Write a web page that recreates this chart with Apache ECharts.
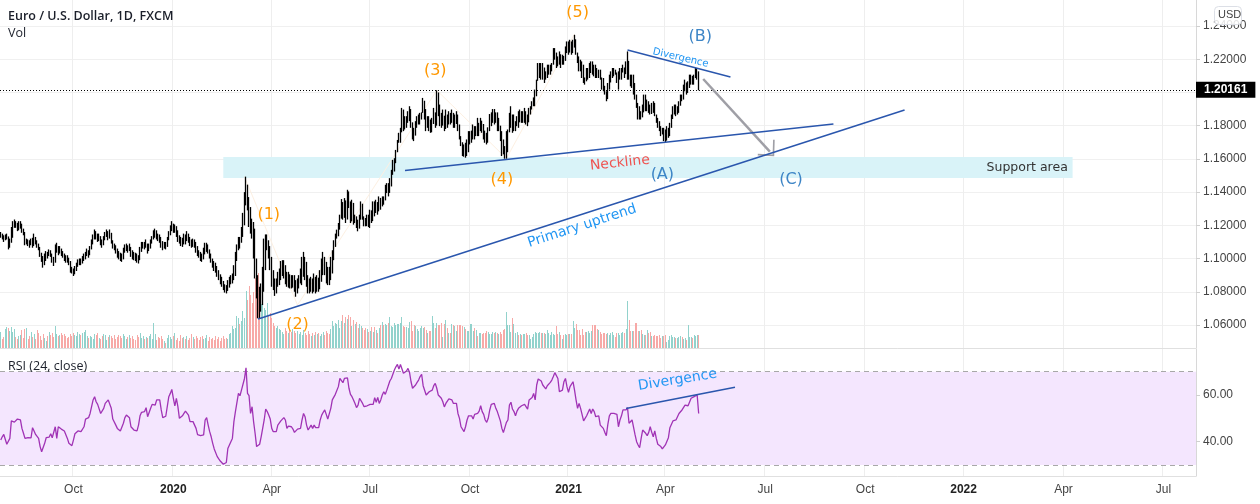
<!DOCTYPE html>
<html><head><meta charset="utf-8">
<script src="https://cdn.jsdelivr.net/npm/echarts@6/dist/echarts.min.js"></script>
<style>html,body{margin:0;padding:0;background:#fff}#c{width:1260px;height:504px}</style>
</head><body><div id="c"></div>
<script>
// Prices are pips above 1.0000 (1145 = 1.1145)
const closes=[
1145,1138,1118,1130,1133,1068,1095,1125,1190,1215,1205,1180,1200,1210,1175,1160,1090,1105,1095,1080,
1105,1075,1130,1100,1085,1068,1025,1005,965,985,1030,1015,1040,1030,995,975,1060,1075,1040,1055,
1030,1020,1005,1000,995,985,935,925,910,925,955,975,980,975,990,1005,1015,1035,1025,1055,
1090,1115,1150,1140,1120,1130,1105,1085,1110,1140,1150,1130,1150,1110,1080,1070,1050,1025,1015,1010,
1000,1040,1060,1065,1055,1070,1030,1020,1010,1005,1000,990,1040,1075,1080,1075,1090,1050,1065,1095,
1115,1135,1150,1135,1125,1115,1100,1070,1080,1075,1110,1140,1175,1195,1170,1185,1165,1130,1110,1100,
1095,1130,1110,1140,1120,1100,1085,1095,1090,1070,1040,1025,1010,1005,1025,1060,1075,1050,1020,1000,
970,950,945,915,895,870,855,830,815,810,830,860,870,880,895,985,1050,1100,1095,1130,
1200,1320,1445,1350,1290,1215,1190,1090,1000,900,755,690,720,800,930,1080,1110,1060,1010,920,
870,810,830,860,880,920,950,955,900,860,880,860,850,860,845,790,830,860,880,890,
990,980,890,850,820,840,810,870,820,850,830,860,900,980,960,920,900,870,910,990,
1070,1120,1149,1200,1240,1340,1245,1350,1235,1400,1320,1240,1335,1225,1240,1195,1180,1245,1330,1245,
1210,1195,1250,1205,1290,1225,1320,1275,1340,1290,1365,1315,1370,1350,1425,1440,1395,1470,1530,1590,
1590,1640,1700,1740,1760,1850,1810,1800,1840,1880,1900,1820,1760,1740,1810,1830,1860,1870,1880,1950,
1900,1810,1820,1790,1760,1810,1880,1800,2000,1890,1830,1800,1860,1780,1850,1810,1870,1840,1870,1800,
1810,1860,1790,1730,1700,1640,1670,1630,1640,1730,1760,1770,1790,1780,1790,1780,1800,1830,1810,1770,
1730,1710,1790,1870,1880,1900,1870,1880,1790,1800,1740,1660,1650,1620,1640,1760,1820,1860,1780,1800,
1810,1840,1820,1880,1850,1860,1870,1830,1820,1890,1900,1940,1970,2010,2070,2130,2140,2120,2150,2090,
2100,2130,2140,2160,2170,2240,2240,2190,2180,2230,2170,2220,2190,2260,2260,2240,2290,2260,2270,2320,
2240,2200,2150,2130,2110,2090,2070,2100,2110,2130,2150,2130,2120,2110,2100,2130,2090,2050,2040,2000,
1960,2040,2060,2100,2120,2130,2120,2070,2080,2100,2120,2150,2110,2140,2190,2100,2050,2060,2020,1970,
1930,1850,1860,1850,1880,1930,1910,1910,1890,1870,1900,1890,1860,1830,1790,1780,1750,1770,1720,1710,
1750,1760,1790,1840,1890,1910,1880,1900,1920,1980,1970,2020,2060,2010,2050,2090,2100,2070,2090,2120,
2120,2016];
const highs=[
1160,1150,1140,1145,1150,1100,1120,1190,1225,1235,1225,1215,1225,1225,1210,1180,1130,1120,1115,1110,
1120,1125,1150,1130,1110,1090,1070,1035,1015,1030,1045,1040,1055,1050,1030,1010,1085,1095,1075,1075,
1060,1045,1030,1020,1020,1005,985,950,940,955,975,995,1000,1000,1015,1030,1040,1060,1050,1075,
1115,1145,1175,1165,1150,1150,1135,1115,1135,1160,1175,1165,1175,1155,1110,1090,1080,1060,1045,1035,
1030,1065,1085,1090,1080,1090,1065,1050,1040,1035,1030,1020,1070,1100,1100,1100,1115,1085,1090,1115,
1135,1170,1180,1170,1150,1145,1130,1105,1100,1100,1130,1165,1200,1225,1210,1205,1195,1170,1140,1130,
1125,1150,1145,1165,1150,1130,1115,1120,1115,1100,1075,1050,1040,1030,1065,1095,1095,1085,1055,1030,
1000,985,975,955,930,905,890,865,845,840,870,890,900,910,960,1040,1085,1130,1130,1190,
1275,1400,1493,1440,1370,1310,1240,1220,1180,1000,900,830,850,950,1120,1145,1145,1110,1075,1010,
930,880,880,920,940,985,990,990,960,920,920,905,900,900,900,870,880,900,940,1010,
1040,1010,950,900,880,890,880,910,890,900,885,930,1000,1040,1010,980,950,950,1010,1050,
1110,1150,1174,1214,1264,1358,1304,1364,1324,1414,1404,1344,1354,1264,1264,1254,1234,1264,1344,1324,
1254,1244,1264,1264,1294,1284,1344,1344,1354,1324,1374,1344,1374,1374,1444,1454,1454,1484,1534,1594,
1604,1654,1714,1757,1787,1907,1897,1857,1857,1887,1917,1887,1807,1787,1827,1857,1867,1877,1877,1967,
1917,1867,1857,1857,1837,1847,1907,1877,2013,1957,1927,1877,1897,1837,1897,1867,1887,1877,1897,1877,
1867,1887,1867,1807,1737,1687,1687,1697,1717,1767,1767,1767,1807,1797,1797,1847,1817,1847,1827,1777,
1757,1757,1767,1857,1877,1877,1867,1867,1867,1847,1777,1767,1717,1677,1767,1777,1877,1917,1867,1867,
1827,1857,1887,1897,1887,1887,1907,1887,1867,1907,1917,1947,1967,2017,2077,2177,2177,2177,2177,2127,
2127,2167,2167,2167,2177,2267,2267,2227,2217,2247,2217,2227,2217,2277,2307,2307,2317,2307,2317,2347,
2307,2227,2217,2197,2187,2167,2087,2147,2147,2177,2187,2187,2167,2167,2147,2137,2137,2087,2087,2027,
2007,2057,2107,2127,2147,2147,2137,2117,2127,2147,2147,2167,2147,2187,2247,2137,2107,2107,2107,2057,
1987,1937,1917,1887,1927,1987,1987,1957,1947,1927,1937,1947,1937,1867,1847,1827,1797,1787,1787,1777,
1797,1787,1817,1867,1917,1927,1927,1917,1947,1987,1987,2047,2077,2057,2067,2107,2107,2097,2107,2147,
2147,2127];
const lows=[
1125,1115,1100,1110,1115,1055,1065,1095,1125,1185,1185,1165,1170,1180,1155,1140,1080,1085,1075,1065,
1080,1065,1085,1085,1065,1050,1010,980,945,960,1000,1000,1015,1010,975,955,975,1035,1020,1030,
1015,1005,985,975,975,960,915,910,895,905,930,950,960,960,970,985,995,1015,1005,1020,
1060,1085,1130,1115,1100,1105,1080,1065,1080,1110,1130,1110,1120,1090,1060,1050,1030,1005,995,985,
980,995,1035,1045,1035,1045,1010,995,990,985,975,970,990,1050,1060,1055,1065,1030,1045,1060,
1090,1115,1125,1115,1105,1095,1065,1050,1060,1055,1070,1110,1140,1165,1155,1155,1130,1100,1090,1075,
1070,1085,1085,1105,1095,1075,1065,1070,1065,1035,1015,1005,985,980,995,1025,1040,1030,1000,975,
945,925,915,890,870,845,830,810,795,790,805,825,845,850,870,950,1020,1065,1060,1095,
1160,1230,1330,1290,1190,1150,1120,1000,880,760,640,636,680,760,900,1050,1050,1000,930,830,
810,775,790,830,840,870,895,880,845,830,825,820,820,825,800,770,795,820,850,840,
900,870,830,790,790,800,790,800,790,800,800,815,870,920,900,850,840,840,880,920,
1010,1080,1124,1134,1174,1264,1234,1274,1214,1314,1304,1214,1224,1204,1214,1184,1164,1194,1234,1234,
1194,1194,1204,1190,1184,1214,1234,1254,1274,1264,1284,1294,1314,1324,1364,1394,1374,1404,1434,1504,
1524,1574,1644,1697,1697,1767,1767,1777,1787,1817,1827,1787,1717,1707,1767,1787,1807,1807,1837,1877,
1837,1767,1787,1767,1757,1787,1837,1787,1877,1857,1797,1787,1817,1767,1817,1787,1807,1807,1817,1787,
1787,1817,1767,1717,1677,1617,1613,1607,1617,1657,1687,1697,1717,1717,1737,1737,1737,1767,1757,1717,
1697,1687,1697,1767,1797,1817,1807,1817,1767,1767,1707,1617,1627,1601,1601,1677,1767,1787,1757,1767,
1767,1797,1787,1837,1817,1817,1817,1807,1797,1837,1867,1897,1917,1917,1977,2077,2087,2077,2077,2057,
2077,2087,2107,2107,2127,2167,2197,2147,2157,2167,2147,2167,2167,2217,2237,2227,2247,2227,2237,2277,
2227,2177,2127,2127,2087,2057,2047,2067,2077,2087,2117,2107,2097,2087,2087,2087,2077,2017,2007,1987,
1947,2007,2017,2067,2087,2097,2107,2057,2017,2077,2077,2127,2087,2117,2077,2077,2037,2027,1987,1957,
1907,1837,1837,1837,1857,1897,1887,1887,1877,1867,1887,1877,1857,1817,1787,1767,1737,1747,1707,1701,
1717,1727,1737,1787,1857,1867,1857,1867,1877,1927,1947,1957,2007,1987,1997,2027,2047,2047,2047,2087,
2077,2013];
const volumes=[
16,9,11,19,21,20,17,21,16,19,11,9,12,13,18,10,19,20,9,12,
16,11,14,9,18,15,12,8,14,10,7,12,16,13,15,11,22,14,12,13,
15,13,14,12,10,11,14,12,15,13,12,16,14,13,15,16,18,12,10,12,
11,9,14,13,15,10,9,12,14,13,8,11,13,12,10,13,9,11,13,12,
10,14,12,9,11,13,10,12,9,8,13,11,15,10,12,9,11,10,12,14,
9,25,14,8,11,10,12,9,7,5,10,13,11,9,12,15,8,10,7,13,
10,11,9,12,8,10,14,11,9,12,10,8,11,12,9,10,13,7,11,9,
10,8,12,9,11,7,10,12,9,10,9,14,15,22,19,20,32,30,24,27,
37,30,57,48,62,53,45,56,70,82,75,58,44,45,40,38,45,33,35,30,
25,22,20,22,19,18,16,14,20,17,15,18,16,19,17,15,17,14,16,13,
18,15,13,17,14,12,15,13,16,14,15,12,14,16,13,17,15,14,19,27,
22,25,24,28,20,27,33,25,31,29,33,31,22,28,24,26,20,24,22,20,
18,20,19,16,17,21,16,21,18,15,20,23,26,23,24,23,25,31,22,21,
25,23,24,24,25,31,22,21,21,20,26,27,17,23,22,19,17,20,22,20,
21,18,15,17,17,32,25,20,25,23,23,25,11,24,28,20,15,15,24,23,
22,17,23,23,23,22,21,19,17,17,24,24,17,20,18,12,15,15,14,15,
15,17,16,14,14,16,15,16,15,14,16,14,18,19,36,23,23,16,30,24,
15,16,13,14,13,14,14,15,13,13,9,11,14,16,15,15,16,15,15,15,
14,18,15,13,16,14,13,22,14,16,13,9,13,14,13,14,14,14,27,20,
24,18,18,13,19,13,16,16,17,15,17,23,23,23,19,18,16,14,15,15,
14,15,13,15,16,13,11,15,15,13,15,16,15,19,47,28,17,17,17,25,
25,17,17,18,14,13,13,18,15,16,12,12,13,12,12,13,10,12,12,13,
6,8,12,13,11,11,10,10,11,12,11,9,10,8,23,11,11,10,13,12,
13,13];
const rsi=[
40.7,42.1,43.1,42.9,38.9,39.7,41.4,48.9,48.9,48.4,48.9,49.7,50.3,49.3,45.7,43.6,41.4,40.6,41.7,41.1,
41.6,46,44.6,43.1,42.6,41.4,37.9,35.7,35.4,39.3,41.7,41.4,42,43.4,41.7,41.1,46.4,41.4,46.4,47.1,
45.4,45.4,44.6,44.6,41.4,39.3,40,38.3,40.7,43.4,44,44.6,44.6,44.3,43.6,46.4,49.7,49.4,50.3,52.1,
55,57.9,59.3,57.1,56,55.4,52.1,52.1,54.3,56.4,57.1,57.9,57.4,54.3,49.7,48.9,47.1,45.7,45,44.6,
45,47.9,50.3,51.4,51.1,50.3,46.4,45.7,45,45.4,44.6,47.1,51.1,52.6,52.6,52.9,54.6,50.7,51.1,54.3,
56,56.6,55.7,57.9,58.3,57.9,53.6,50.3,50.9,50.9,51.4,59.3,60.7,62.4,58.6,55.4,58.6,55,50,50,
51.1,52.1,53.1,52.9,51.4,48.6,48.3,48.6,47.9,45.7,43,42.6,42.6,42.1,42.9,49.3,50.3,47.1,44.3,42.1,
39.3,36.9,36.9,33.6,32.6,31.7,32.1,30.3,30.7,31.1,37.1,37.9,40,41.4,48.6,52.9,53.6,60.7,59.7,62.1,
62.9,67.1,71.7,60.7,59.7,52.1,55,48.6,43.6,37.9,37.9,38.9,42.1,45.7,49.3,54,52.9,51.4,49.7,45.7,
44.3,43.6,44.3,47.1,47.9,48.9,48.3,50.3,49.3,45.7,46.7,46.7,46.4,45.4,44,43.6,45.4,45.7,45.7,49.3,
52.1,50.7,47.1,45,46,47.1,45.7,47.1,46,46,46,49.3,51.4,52.6,53.6,51.7,49.7,49.7,54.3,57.9,
58.6,60.3,60.7,63.6,67.1,67.9,65.3,67.1,67.4,67.4,62.9,60.3,59.3,57.9,56.4,54.6,55.7,58.6,59.3,56.4,
55,54.9,55.4,55.7,56,56,56,58.9,56.9,59,56.4,57.9,60,61.4,60.3,62.1,62.9,66,67.1,67.9,
70.7,72.1,73.1,71.1,73.1,73.6,69.3,68.6,70.3,71.4,69.7,65.7,62.9,63.1,64.3,65.4,66.4,67.9,68.9,64,
63.6,60,60,61.4,61.1,62.1,64,65,62.9,60,59.7,58.6,57.1,54.9,56.4,57.4,58.3,59,57.9,56.4,
56,56.4,52.1,50,46.4,45.7,44.3,46.4,49.3,51.1,50.3,51.1,49.7,51.7,51.4,52.1,53.1,55.4,52.9,51.7,
49.3,48.3,50,53.6,56,55.4,56.4,54.3,52.9,52.1,48.9,45.7,43.9,44,48.3,49.3,55.7,56.9,54,52.9,
51.1,53.1,54.3,55,55.4,55.7,56,55.4,54,57.9,58.3,58.9,60.7,57.9,64.3,66.9,67.1,66,64.3,64.6,
62.6,64,64.3,65.4,66.4,67.9,69.6,68.9,67.1,61.4,61.7,62.1,65.7,67.1,63.6,61.1,63.6,64.3,65.7,62.1,
57.9,54.3,56.4,54.3,53.6,48.9,48.9,51.1,51.4,54,52.1,54,52.9,50.7,51.4,51.1,47.1,46.4,45.7,44,
42.6,47.4,51.1,52.1,52.1,52.1,52.1,51.7,46.4,49.3,51.1,53.6,54.3,53.6,54.6,47.9,47.1,49.3,48.6,42.9,
40,38.6,37.4,41.4,45,45.7,43.6,42.6,44,46.4,44,42.1,44.6,41.4,38.9,39.3,37.9,36.9,36.3,38.6,
39.3,41.7,46,46.4,48.9,48.3,49.3,50,52.1,52.4,53.6,54.3,55.7,56,55.4,55.7,58.6,58.6,59.3,60,
60,52.1];

const slotCount=790;
const timeTicks=[[48,'Oct'],[114,'2020'],[179,'Apr'],[244,'Jul'],[310,'Oct'],[375,'2021'],[439,'Apr'],[505,'Jul'],[571,'Oct'],[636,'2022'],[702,'Apr'],[768,'Jul']];
const priceTicks=[1.06,1.08,1.10,1.12,1.14,1.16,1.18,1.20,1.22,1.24];
const rsiTicks=[40,60];
const lastPrice=1.20161;

// Drawn objects in chart coordinates: [bar slot, price or RSI]
const primaryUptrend=[[170,1.0636],[597,1.1894]];
const neckline=[[267,1.153],[550,1.181]];
const priceDivergence=[[414,1.2256],[482,1.2093]];
const rsiDivergence=[[413,54.2],[485,63.3]];
const waveLine=[[161,1.1493],[196,1.072],[288,1.2013],[334,1.1603],[379,1.2352]];
const arrowFrom=[464,1.2081], arrowTo=[507.8,1.1644];
const supportBand=[[147,1.1611],[708,1.1485]];
const waveLabels=[['(1)',177,1.1262],['(2)',196,1.06],['(3)',287,1.2129],['(4)',331,1.1473],['(5)',381,1.2478]];
const abcLabels=[['(A)',437,1.1503],['(B)',462,1.2334],['(C)',522,1.1473]];

const sans='"DejaVu Sans"', ui='"Liberation Sans"';
const P=v=>1+v/10000;
const categories=Array.from({length:slotCount},(_,i)=>String(i));
const tickMap=new Map(timeTicks);
const candle=closes.map((c,i)=>{
  const o=i?closes[i-1]:c;
  return [P(o),P(c),P(Math.min(lows[i],o,c)),P(Math.max(highs[i],o,c))];
});
const vol=volumes.map((v,i)=>[i,v,closes[i]>=(i?closes[i-1]:closes[i])?1:0]);

const lineS=(name,data,color,width,idx,z)=>({name,type:'line',data,xAxisIndex:idx,yAxisIndex:idx?2:0,symbol:'none',silent:true,z:z||6,
  lineStyle:{color,width},animation:false,clip:false});
const labelS=(items,idx)=>({type:'scatter',xAxisIndex:idx,yAxisIndex:idx?2:0,symbolSize:1,silent:true,z:8,clip:false,animation:false,
  itemStyle:{color:'rgba(0,0,0,0)',opacity:1},
  data:items.map(t=>({value:[t.x,t.y],label:{show:true,position:'inside',opacity:1,formatter:t.text,color:t.color,fontSize:t.size,fontFamily:sans,rotate:t.rot||0}}))});

const xBase=(gridIndex,showLabel)=>({type:'category',gridIndex,data:categories,boundaryGap:true,
  axisLine:{show:true,lineStyle:{color:'#e0e0e0',width:1}},axisTick:{show:false},
  splitLine:{show:true,interval:(i)=>tickMap.has(i),lineStyle:{color:'#eeeeee',width:1}},
  axisLabel:{show:showLabel,interval:(i)=>tickMap.has(i),margin:8,fontFamily:ui,fontSize:12,color:'#444',
    formatter:(v,i)=>{const t=tickMap.get(+v);return /^\d/.test(t)?'{y|'+t+'}':t;},
    rich:{y:{fontWeight:'bold',fontFamily:ui,fontSize:12,color:'#222'}}}});

const option={animation:false,backgroundColor:'#fff',
 grid:[{left:0,top:0,width:1196,height:348},{left:0,top:349,width:1196,height:127}],
 xAxis:[xBase(0,false),xBase(1,true)],
 yAxis:[
  {type:'value',gridIndex:0,position:'right',min:1.04614,max:1.25565,scale:true,
   axisLine:{show:true,lineStyle:{color:'#d8d8d8'}},axisTick:{show:true,length:4,lineStyle:{color:'#d0d0d0'},customValues:priceTicks},
   axisLabel:{customValues:priceTicks,margin:7,padding:[2,0,0,0],fontFamily:ui,fontSize:12,color:'#444',formatter:v=>v.toFixed(5)},
   splitLine:{show:true,lineStyle:{color:'#f0f0f0'}}},
  {type:'value',gridIndex:0,min:0,max:348,show:false,splitLine:{show:false}},
  {type:'value',gridIndex:1,position:'right',min:25.29,max:79.73,
   axisLine:{show:true,lineStyle:{color:'#d8d8d8'}},axisTick:{show:true,length:4,lineStyle:{color:'#d0d0d0'},customValues:rsiTicks},
   axisLabel:{customValues:rsiTicks,margin:7,padding:[2,0,0,0],fontFamily:ui,fontSize:12,color:'#444',formatter:v=>v.toFixed(2)},
   splitLine:{show:true,lineStyle:{color:'#e6dcee'}}}
 ],
 graphic:[
  {type:'text',left:8,top:10,z:20,style:{text:'Euro / U.S. Dollar, 1D, FXCM',font:'600 12.5px "Open Sans"',fill:'#1b1f2a'}},
  {type:'text',left:8,top:27,z:20,style:{text:'Vol',font:'12.5px "Open Sans"',fill:'#1b1f2a'}},
  {type:'text',left:8,top:360,z:20,style:{text:'RSI (24, close)',font:'12.5px "Open Sans"',fill:'#1b1f2a'}},
  {type:'rect',left:1214,top:6,z:20,shape:{width:27,height:18,r:4},style:{fill:'rgba(255,255,255,0.85)',stroke:'#dcdfe6',lineWidth:1}},
  {type:'text',left:1218,top:9,z:21,style:{text:'USD',font:'11px "Liberation Sans"',fill:'#444'}}
 ],
 series:[
  {name:'support',type:'line',xAxisIndex:0,yAxisIndex:0,data:supportBand,symbol:'none',lineStyle:{opacity:0},silent:true,z:1,
   markArea:{silent:true,itemStyle:{color:'#d9f3f8'},data:[[{coord:supportBand[0]},{coord:supportBand[1]}]]}},
  lineS('wave',waveLine,'#fdf0e2',1,0,2),
  {name:'Vol',type:'custom',xAxisIndex:0,yAxisIndex:1,data:vol,z:3,silent:true,animation:false,clip:false,
   encode:{x:0,y:1},
   renderItem:(params,api)=>{
     const top=api.coord([api.value(0),api.value(1)]);
     const base=api.coord([api.value(0),0]);
     const y=Math.round(top[1]);
     return {type:'rect',shape:{x:Math.round(top[0]-0.5),y,width:1,height:Math.round(base[1])-y},
       style:{fill:api.value(2)?'#92d2cc':'#f7a9a7'}};
   }},
  {name:'EURUSD',type:'candlestick',xAxisIndex:0,yAxisIndex:0,data:candle,barWidth:0.1,z:4,silent:true,progressive:0,
   itemStyle:{color:'#000',color0:'#000',borderColor:'#000',borderColor0:'#000',borderWidth:1.3},
   markLine:{silent:true,symbol:'none',animation:false,precision:5,
     lineStyle:{color:'#000',type:[1,2],width:1},
     label:{show:true,position:'end',distance:0,formatter:lastPrice.toFixed(5),color:'#fff',backgroundColor:'#000',padding:[2,8,2,8],fontFamily:ui,fontSize:12,fontWeight:'bold'},
     data:[{yAxis:lastPrice}]}},
  lineS('Primary uptrend',primaryUptrend,'#2a56ad',1.5,0),
  lineS('Neckline',neckline,'#2a56ad',1.5,0),
  lineS('Divergence',priceDivergence,'#2a56ad',1.5,0),
  {name:'arrow',type:'line',xAxisIndex:0,yAxisIndex:0,data:[],symbol:'none',silent:true,z:7,
   markLine:{silent:true,animation:false,symbol:['none','path://M0 0 L15 15 L13.5 16.5 L0 3 L-13.5 16.5 L-15 15Z'],symbolSize:[23,13],
     lineStyle:{color:'#9f9fa6',width:2.5,type:'solid'},label:{show:false},
     data:[[{coord:arrowFrom},{coord:arrowTo}]]}},
  labelS([
    ...waveLabels.map(w=>({text:w[0],x:w[1],y:w[2],color:'#ff9800',size:16})),
    ...abcLabels.map(w=>({text:w[0],x:w[1],y:w[2],color:'#3d85c6',size:16})),
    {text:'Neckline',x:409,y:1.1575,color:'#ef5350',size:14,rot:6},
    {text:'Primary uptrend',x:384,y:1.1196,color:'#2196f3',size:14,rot:18},
    {text:'Divergence',x:449,y:1.2208,color:'#2196f3',size:10,rot:-13},
    {text:'Support area',x:678,y:1.1545,color:'#333',size:12.5}
  ],0),
  {name:'RSI',type:'line',xAxisIndex:1,yAxisIndex:2,data:rsi,symbol:'none',silent:true,z:5,
   lineStyle:{color:'#a033b5',width:1.3},
   markArea:{silent:true,itemStyle:{color:'#f4e6fe'},data:[[{yAxis:70},{yAxis:30}]]}},
  {name:'RSI bands',type:'line',xAxisIndex:1,yAxisIndex:2,data:[],symbol:'none',silent:true,z:6,
   markLine:{silent:true,symbol:'none',animation:false,label:{show:false},lineStyle:{color:'#a8a8a8',type:[5,4],width:1},data:[{yAxis:70},{yAxis:30}]}},
  lineS('RSI divergence',rsiDivergence,'#2a56ad',1.5,1),
  labelS([{text:'Divergence',x:447,y:66.4,color:'#2196f3',size:14,rot:9}],1)
 ]};
const chart=echarts.init(document.getElementById('c'),null,{renderer:'canvas'});
chart.setOption(option);
</script></body></html>
